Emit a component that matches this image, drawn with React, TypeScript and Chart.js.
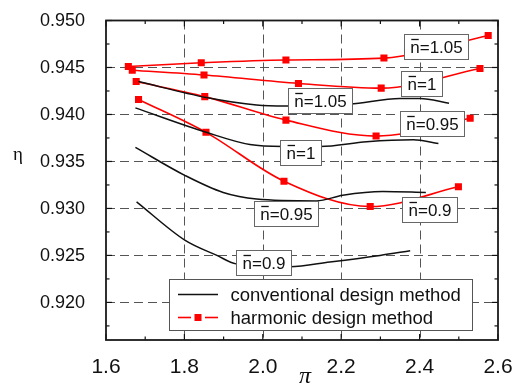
import { useEffect, useRef } from "react";
import { Chart, registerables } from "chart.js";

Chart.register(...registerables);

const SANS = "'Liberation Sans', Arial, Helvetica, sans-serif";
const SERIF = "'Liberation Serif', 'Times New Roman', serif";

// Axis ranges and tick labels
const X_MIN = 1.6;
const X_MAX = 2.6;
const Y_MIN = 0.916;
const Y_MAX = 0.95;
const xTicks = [1.6, 1.8, 2.0, 2.2, 2.4, 2.6];
const yTicks = [0.92, 0.925, 0.93, 0.935, 0.94, 0.945, 0.95];

// Harmonic design method (red, square markers), one curve per n̄
const harmPi105 = [1.657, 1.843, 2.059, 2.309, 2.575];
const harmEta105 = [0.9451, 0.9455, 0.9458, 0.946, 0.9484];
const harmPi100 = [1.667, 1.85, 2.091, 2.302, 2.554];
const harmEta100 = [0.9447, 0.9442, 0.9433, 0.9428, 0.9449];
const harmPi095 = [1.677, 1.852, 2.059, 2.289, 2.529];
const harmEta095 = [0.9435, 0.9419, 0.9394, 0.9377, 0.9396];
const harmPi090 = [1.683, 1.855, 2.054, 2.274, 2.499];
const harmEta090 = [0.9416, 0.9381, 0.9329, 0.9302, 0.9323];

// Conventional design method (black, no markers)
const convPi105 = [1.683, 1.856, 1.984, 2.06, 2.222, 2.35, 2.401, 2.475];
const convEta105 = [0.9435, 0.9418, 0.941, 0.9409, 0.9411, 0.9417, 0.9417, 0.9412];
const convPi100 = [1.675, 1.856, 1.967, 2.052, 2.146, 2.265, 2.384, 2.448];
const convEta100 = [0.9407, 0.9381, 0.9368, 0.9366, 0.9366, 0.9371, 0.9373, 0.9369];
const convPi095 = [1.675, 1.802, 1.899, 1.984, 2.137, 2.204, 2.306, 2.416];
const convEta095 = [0.9365, 0.9335, 0.9317, 0.931, 0.9308, 0.9314, 0.9318, 0.9317];
const convPi090 = [1.678, 1.802, 1.883, 1.932, 2.069, 2.171, 2.299, 2.376];
const convEta090 = [0.9307, 0.9266, 0.925, 0.9241, 0.9238, 0.9243, 0.925, 0.9255];

// Boxed n̄ annotations, anchored at data coordinates (box centre)
const labelValues = ["1.05", "1", "0.95", "0.9", "1.05", "1", "0.95", "0.9"];
const labelPi = [2.442, 2.406, 2.432, 2.425, 2.146, 2.097, 2.059, 2.001];
const labelEta = [0.9472, 0.9433, 0.939, 0.9299, 0.9415, 0.936, 0.9295, 0.9243];

const RED = "#ff0000";
const BLACK = "#111111";

const toPoints = (xs: number[], ys: number[]) => xs.map((x, i) => ({ x, y: ys[i] }));

const harmonic = (xs: number[], ys: number[]) => ({
  data: toPoints(xs, ys),
  borderColor: RED,
  backgroundColor: RED,
  borderWidth: 1.6,
  pointStyle: "rect" as const,
  pointRadius: 5,
  pointBorderWidth: 0,
  pointBackgroundColor: RED,
  cubicInterpolationMode: "monotone" as const,
});

const conventional = (xs: number[], ys: number[]) => ({
  data: toPoints(xs, ys),
  borderColor: BLACK,
  borderWidth: 1.5,
  pointRadius: 0,
  cubicInterpolationMode: "monotone" as const,
});

const midpoints = (v: number[]) => v.slice(0, -1).map((a, i) => (a + v[i + 1]) / 2);

const framePlugin = {
  id: "frame",
  beforeDraw(chart: any) {
    const { ctx, width, height } = chart;
    ctx.save();
    ctx.fillStyle = "#ffffff";
    ctx.fillRect(0, 0, width, height);
    ctx.restore();
  },
  beforeDatasetsDraw(chart: any) {
    const { ctx, chartArea: a } = chart;
    const xs = chart.scales.x;
    const ys = chart.scales.y;
    ctx.save();
    ctx.strokeStyle = "#555555";
    ctx.lineWidth = 1;
    ctx.setLineDash([9, 5]);
    xTicks.slice(1, -1).forEach((v) => {
      const px = Math.round(xs.getPixelForValue(v)) + 0.5;
      ctx.beginPath();
      ctx.moveTo(px, a.top);
      ctx.lineTo(px, a.bottom);
      ctx.stroke();
    });
    yTicks.slice(0, -1).forEach((v) => {
      const py = Math.round(ys.getPixelForValue(v)) + 0.5;
      ctx.beginPath();
      ctx.moveTo(a.left, py);
      ctx.lineTo(a.right, py);
      ctx.stroke();
    });
    ctx.restore();
  },
  afterDatasetsDraw(chart: any) {
    const { ctx, chartArea: a } = chart;
    const xs = chart.scales.x;
    const ys = chart.scales.y;
    ctx.save();
    // inward ticks on all four sides
    ctx.strokeStyle = "#111111";
    ctx.lineWidth = 1.2;
    const xMinor = midpoints(xTicks);
    const yMinor = [0.9175, ...midpoints(yTicks)];
    const tick = (x1: number, y1: number, x2: number, y2: number) => {
      ctx.beginPath();
      ctx.moveTo(x1, y1);
      ctx.lineTo(x2, y2);
      ctx.stroke();
    };
    xTicks.forEach((v) => {
      const px = xs.getPixelForValue(v);
      tick(px, a.bottom, px, a.bottom - 6);
      tick(px, a.top, px, a.top + 6);
    });
    xMinor.forEach((v) => {
      const px = xs.getPixelForValue(v);
      tick(px, a.bottom, px, a.bottom - 3.5);
      tick(px, a.top, px, a.top + 3.5);
    });
    yTicks.forEach((v) => {
      const py = ys.getPixelForValue(v);
      tick(a.left, py, a.left + 6, py);
      tick(a.right, py, a.right - 6, py);
    });
    yMinor.forEach((v) => {
      const py = ys.getPixelForValue(v);
      tick(a.left, py, a.left + 3.5, py);
      tick(a.right, py, a.right - 3.5, py);
    });
    // plot frame
    ctx.lineWidth = 1.8;
    ctx.strokeStyle = "#1a1a1a";
    ctx.strokeRect(a.left, a.top, a.right - a.left, a.bottom - a.top);

    // tick labels
    ctx.fillStyle = "#111111";
    ctx.textBaseline = "middle";
    ctx.textAlign = "right";
    ctx.font = `18px ${SANS}`;
    yTicks.forEach((v) => {
      ctx.fillText(v.toFixed(3), a.left - 21, ys.getPixelForValue(v) + 1);
    });
    ctx.textAlign = "center";
    ctx.font = `21px ${SANS}`;
    xTicks.forEach((v) => {
      ctx.fillText(v.toFixed(1), xs.getPixelForValue(v), a.bottom + 27);
    });

    // n̄ annotations
    ctx.font = `17px ${SANS}`;
    ctx.textAlign = "left";
    labelValues.forEach((val, i) => {
      const txt = `n=${val}`;
      const w = ctx.measureText(txt).width;
      const nw = ctx.measureText("n").width;
      const cx = xs.getPixelForValue(labelPi[i]);
      const cy = ys.getPixelForValue(labelEta[i]);
      const bw = Math.round(w + 12);
      const bh = 25;
      const bx = Math.round(cx - bw / 2) + 0.5;
      const by = Math.round(cy - bh / 2) + 0.5;
      ctx.fillStyle = "#ffffff";
      ctx.fillRect(bx, by, bw, bh);
      ctx.strokeStyle = "#666666";
      ctx.lineWidth = 1;
      ctx.strokeRect(bx, by, bw, bh);
      ctx.fillStyle = "#111111";
      const tx = bx + (bw - w) / 2;
      ctx.fillText(txt, tx, by + bh / 2 + 1);
      ctx.strokeStyle = "#111111";
      ctx.lineWidth = 1.3;
      ctx.beginPath();
      ctx.moveTo(tx + 1, by + 5);
      ctx.lineTo(tx + nw - 1, by + 5);
      ctx.stroke();
    });

    // legend
    const lx = 169.5;
    const ly = 279.5;
    const lw = 303;
    const lh = 51;
    ctx.fillStyle = "#ffffff";
    ctx.fillRect(lx, ly, lw, lh);
    ctx.strokeStyle = "#555555";
    ctx.lineWidth = 1;
    ctx.strokeRect(lx, ly, lw, lh);
    const row1 = 294.5;
    const row2 = 317.5;
    ctx.strokeStyle = BLACK;
    ctx.lineWidth = 1.6;
    tick(178, row1, 218, row1);
    ctx.strokeStyle = RED;
    tick(178, row2, 191, row2);
    tick(205, row2, 218, row2);
    ctx.fillStyle = RED;
    ctx.fillRect(194.5, row2 - 3.5, 7, 7);
    ctx.fillStyle = "#111111";
    ctx.font = `18.5px ${SANS}`;
    ctx.fillText("conventional design method", 230.5, row1 + 1);
    ctx.fillText("harmonic design method", 230.5, row2 + 1);

    // axis titles
    ctx.textAlign = "center";
    ctx.font = `italic 24px ${SERIF}`;
    ctx.fillText("π", 305, 377);
    ctx.font = `19px ${SERIF}`;
    ctx.fillText("η", 18, 155);
    ctx.restore();
  },
};

export default function App() {
  const canvasRef = useRef<HTMLCanvasElement | null>(null);

  useEffect(() => {
    const canvas = canvasRef.current;
    if (!canvas) return;
    const chart = new Chart(canvas, {
      type: "line",
      data: {
        datasets: [
          conventional(convPi105, convEta105),
          conventional(convPi100, convEta100),
          conventional(convPi095, convEta095),
          conventional(convPi090, convEta090),
          harmonic(harmPi105, harmEta105),
          harmonic(harmPi100, harmEta100),
          harmonic(harmPi095, harmEta095),
          harmonic(harmPi090, harmEta090),
        ],
      },
      options: {
        animation: false,
        responsive: false,
        devicePixelRatio: 1,
        layout: { padding: { left: 106, top: 20.5, right: 24, bottom: 47 } },
        plugins: { legend: { display: false }, tooltip: { enabled: false } },
        scales: {
          x: { type: "linear", display: false, min: X_MIN, max: X_MAX },
          y: { type: "linear", display: false, min: Y_MIN, max: Y_MAX },
        },
      },
      plugins: [framePlugin],
    });
    return () => chart.destroy();
  }, []);

  return (
    <div style={{ position: "absolute", left: 0, top: 0, width: 522, height: 387 }}>
      <canvas ref={canvasRef} width={522} height={387} style={{ display: "block" }} />
    </div>
  );
}
